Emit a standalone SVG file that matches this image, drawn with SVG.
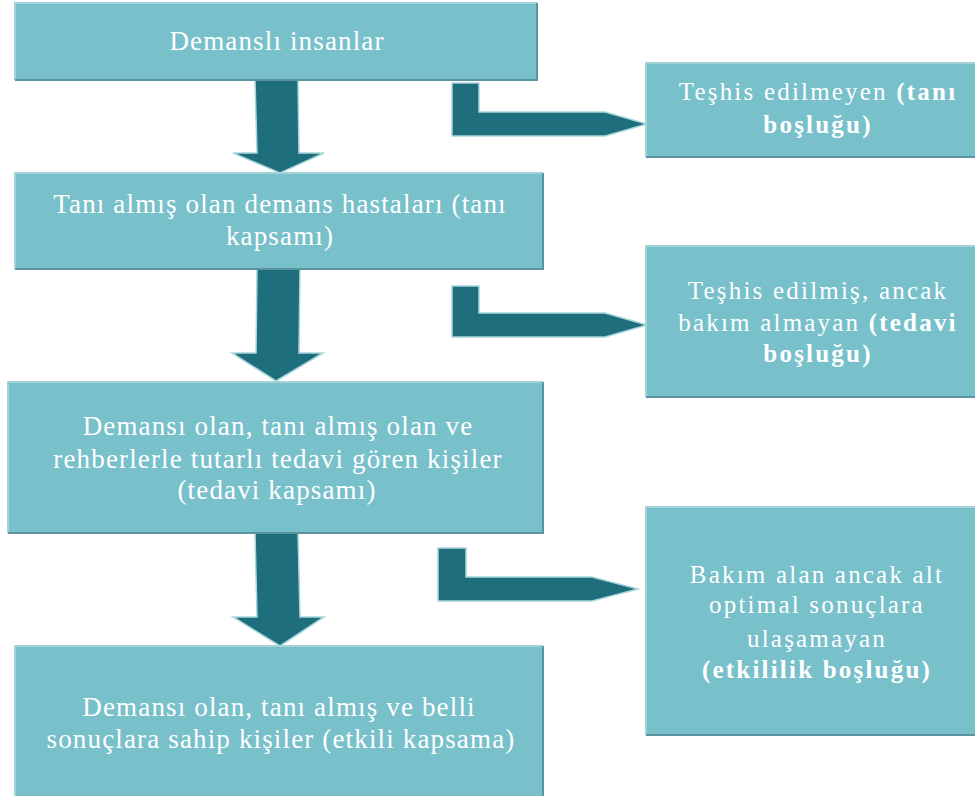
<svg xmlns="http://www.w3.org/2000/svg" width="975" height="796" viewBox="0 0 975 796">
<style>
.box{fill:#78C0CA}
.hi{fill:none;stroke:#A3D2D8;stroke-width:2}
.lo{fill:none;stroke:#5A959D;stroke-width:2}
.arr{fill:#1E6E7E;stroke:#A9D6DC;stroke-width:1.5;stroke-linejoin:miter}
text{font-family:"Liberation Serif","Times New Roman",serif;fill:#FFFFFF;text-anchor:middle}
.l{font-size:27px;letter-spacing:1.15px}
.r{font-size:25px;letter-spacing:2.2px}
.b{font-weight:bold}
</style>
<rect width="975" height="796" fill="#FFFFFF"/>
<g id="connectors">
<polygon class="arr" points="255,80 298,80 299,153 324,153 280,173 233,153 257,153"/>
<polygon class="arr" points="257,269 300,269 299,353 323,353 276,381 232,353 256,353"/>
<polygon class="arr" points="255,533 298,533 300,617 324,617 280,646 233,617 257,617"/>
<polygon class="arr" points="452,83 479,83 479,112 605,112 647,124 605,136 452,136"/>
<polygon class="arr" points="452,286 479,286 479,313 605,313 647,325 605,337 452,337"/>
<polygon class="arr" points="438,548 466,548 466,577 592,577 638,589 592,601 438,601"/>
</g>
<g id="n1">
<rect class="box" x="15" y="3" width="522" height="77"/>
<polyline class="hi" points="15,80 15,3 537,3"/>
<polyline class="lo" points="537,3 537,80 15,80"/>
<text class="l" x="277" y="50">Demanslı insanlar</text>
</g>
<g id="n2">
<rect class="box" x="15" y="173" width="528" height="96"/>
<polyline class="hi" points="15,269 15,173 543,173"/>
<polyline class="lo" points="543,173 543,269 15,269"/>
<text class="l" x="280" y="213">Tanı almış olan demans hastaları (tanı</text>
<text class="l" x="280" y="245">kapsamı)</text>
</g>
<g id="n3">
<rect class="box" x="8" y="382" width="535" height="151"/>
<polyline class="hi" points="8,533 8,382 543,382"/>
<polyline class="lo" points="543,382 543,533 8,533"/>
<text class="l" x="278" y="435">Demansı olan, tanı almış olan ve</text>
<text class="l" x="278" y="468">rehberlerle tutarlı tedavi gören kişiler</text>
<text class="l" x="277" y="499">(tedavi kapsamı)</text>
</g>
<g id="n4">
<rect class="box" x="15" y="646" width="528" height="160"/>
<polyline class="hi" points="15,806 15,646 543,646"/>
<polyline class="lo" points="543,646 543,806"/>
<text class="l" x="279" y="716">Demansı olan, tanı almış ve belli</text>
<text class="l" x="281" y="748">sonuçlara sahip kişiler (etkili kapsama)</text>
</g>
<g id="r1">
<rect class="box" x="646" y="63" width="340" height="94"/>
<polyline class="hi" points="646,157 646,63 986,63"/>
<polyline class="lo" points="646,157 986,157"/>
<text class="r" x="818" y="100">Teşhis edilmeyen <tspan class="b">(tanı</tspan></text>
<text class="r b" x="818" y="133">boşluğu)</text>
</g>
<g id="r2">
<rect class="box" x="646" y="246" width="340" height="151"/>
<polyline class="hi" points="646,397 646,246 986,246"/>
<polyline class="lo" points="646,397 986,397"/>
<text class="r" x="818" y="299">Teşhis edilmiş, ancak</text>
<text class="r" x="818" y="331">bakım almayan <tspan class="b">(tedavi</tspan></text>
<text class="r b" x="818" y="362">boşluğu)</text>
</g>
<g id="r3">
<rect class="box" x="646" y="507" width="340" height="228"/>
<polyline class="hi" points="646,735 646,507 986,507"/>
<polyline class="lo" points="646,735 986,735"/>
<text class="r" x="817" y="583">Bakım alan ancak alt</text>
<text class="r" x="817" y="613">optimal sonuçlara</text>
<text class="r" x="817" y="647">ulaşamayan</text>
<text class="r b" x="817" y="678">(etkililik boşluğu)</text>
</g>
</svg>
